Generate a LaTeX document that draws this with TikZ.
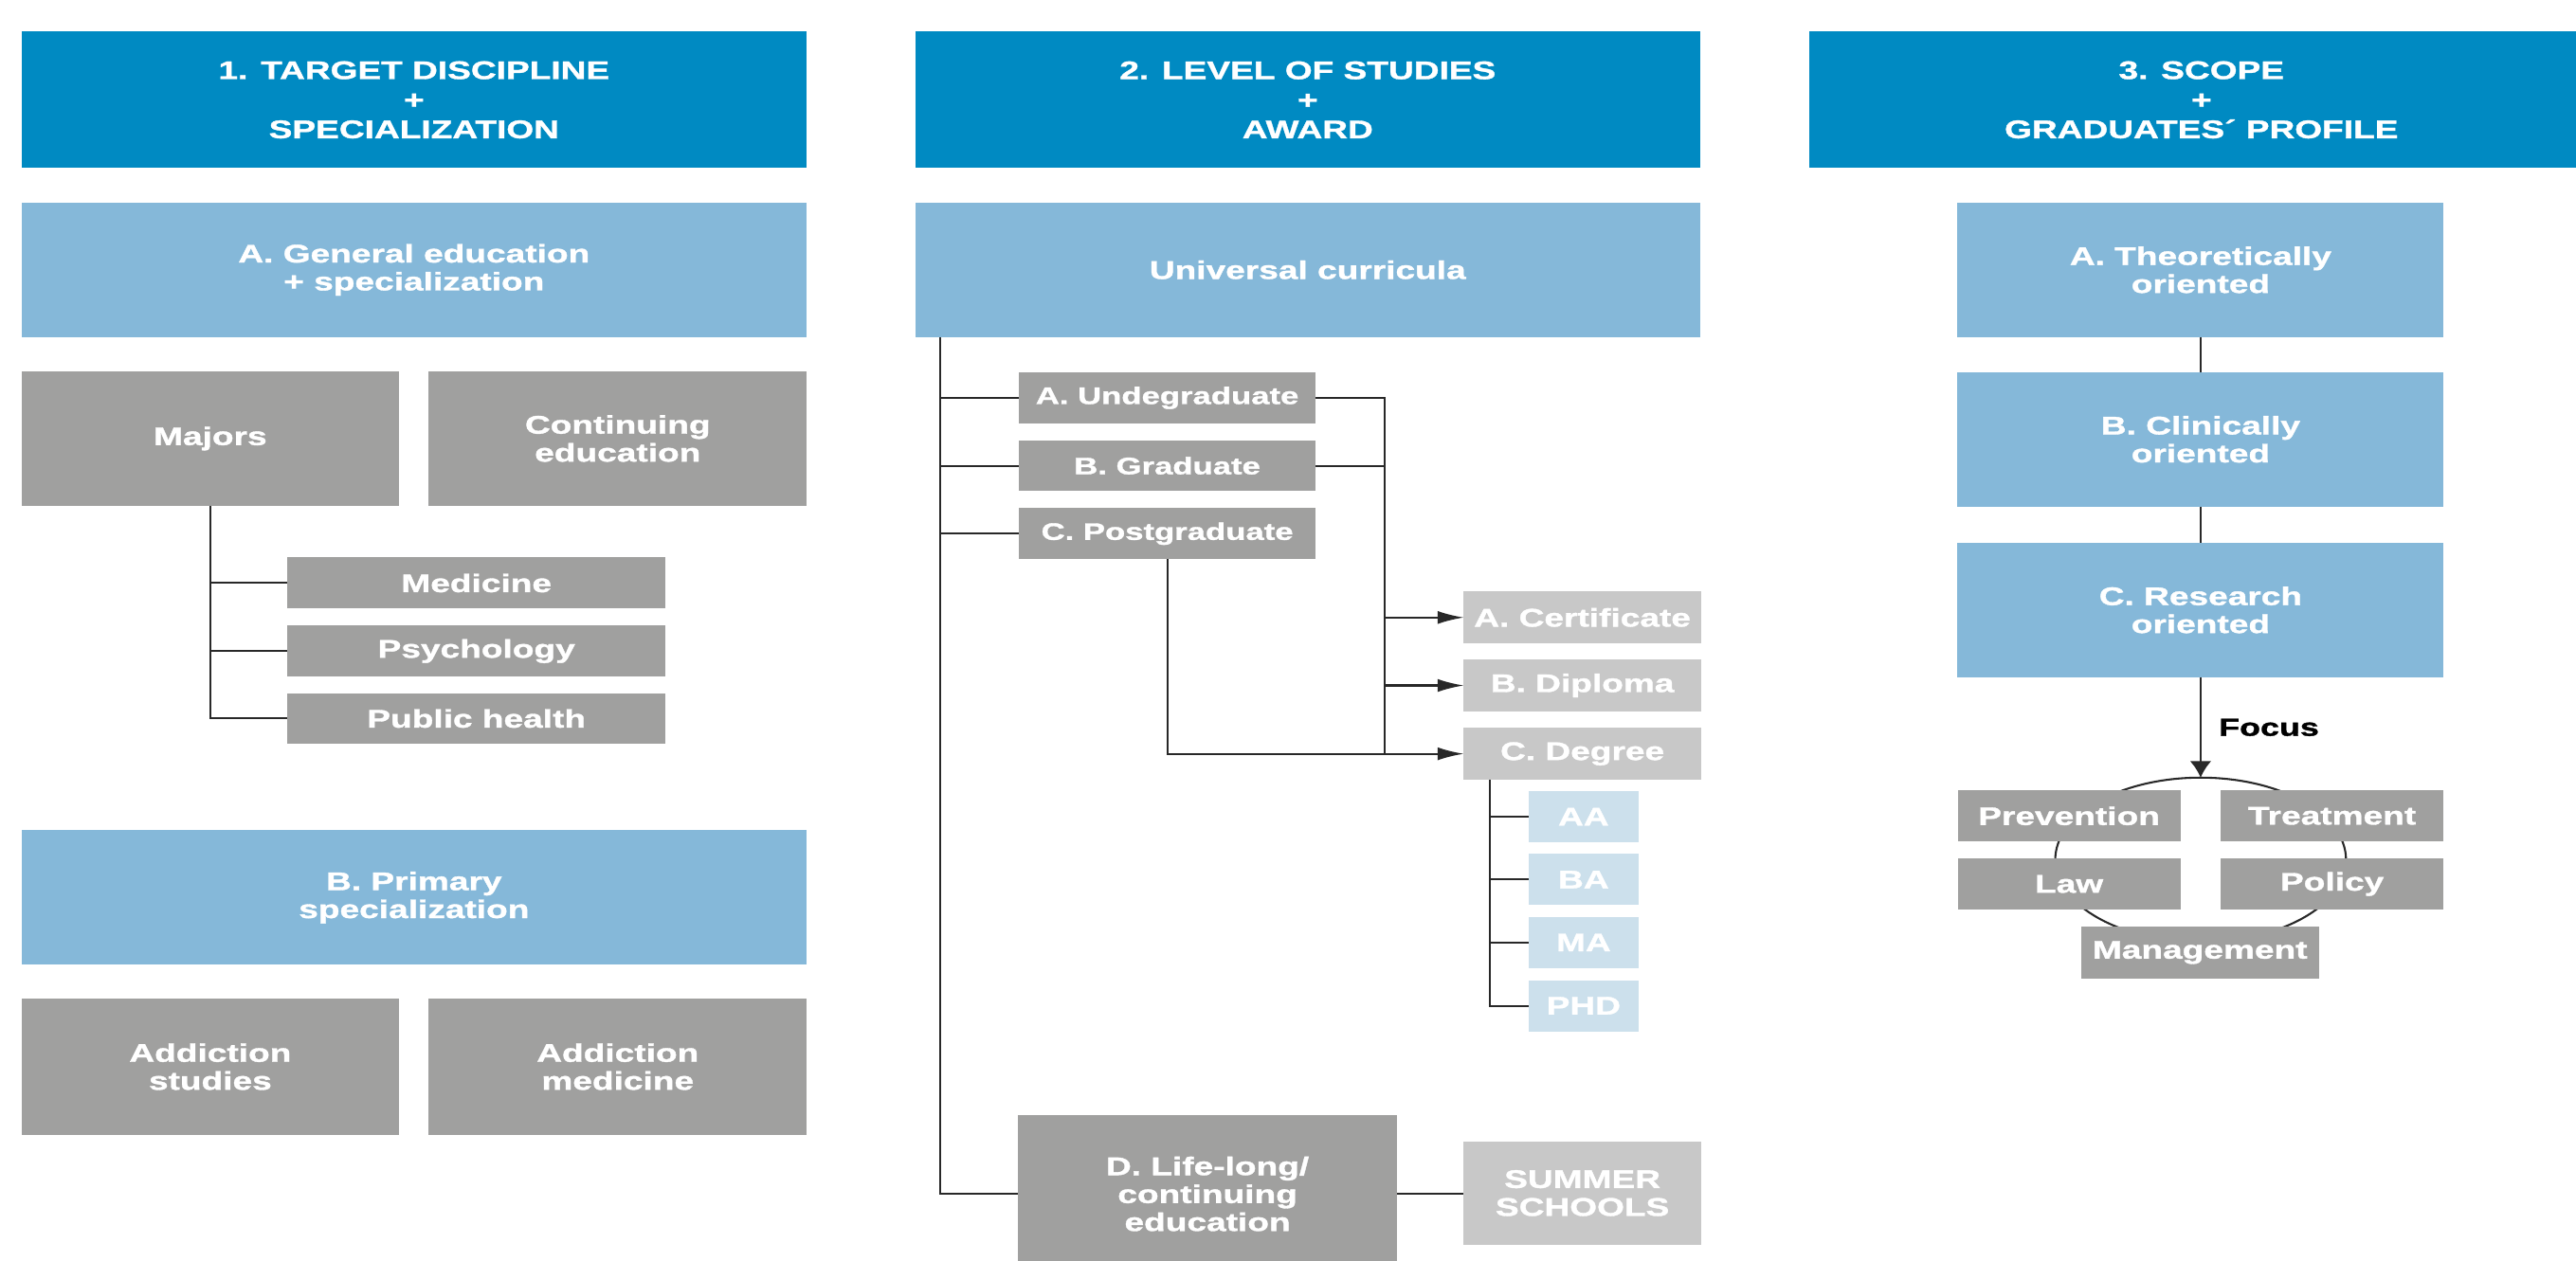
\documentclass[tikz,border=0pt]{standalone}
\usepackage{fontspec}
\newfontfamily\labfont{Liberation Sans}[FakeStretch=1.38, BoldFeatures={FakeBold=1.3}]
\usetikzlibrary{arrows.meta,shapes.geometric}
\definecolor{hdr}{RGB}{0,138,194}
\definecolor{lblue}{RGB}{133,184,217}
\definecolor{gbox}{RGB}{160,160,159}
\definecolor{lgray}{RGB}{200,200,200}
\definecolor{pblue}{RGB}{204,224,236}
\definecolor{ln}{RGB}{40,40,40}
\tikzset{
  base/.style={inner sep=0pt, outer sep=0pt, text=white, align=center,
    font=\labfont\bfseries\fontsize{15.5}{17}\selectfont},
  hdrbox/.style={base, fill=hdr, minimum width=478pt, minimum height=83pt},
  bigblue/.style={base, fill=lblue, minimum height=82pt},
  graybox/.style={base, fill=gbox},
  smallgray/.style={base, fill=gbox, minimum width=181pt, minimum height=31pt,
    font=\labfont\bfseries\fontsize{14.5}{16}\selectfont},
  lgbox/.style={base, fill=lgray, minimum width=144.4pt},
  pbbox/.style={base, fill=pblue, minimum width=67pt, minimum height=31.2pt},
  conn/.style={draw=ln, line width=1.2pt},
  harrow/.style={conn, -{Latex[length=16pt,width=8pt]}},
  varrow/.style={conn, -{Latex[length=10pt,width=13pt]}},
  focuslbl/.style={inner sep=0pt, text=black,
    font=\labfont\bfseries\fontsize{15}{17}\selectfont},
}
\begin{document}
\begin{tikzpicture}[x=1pt,y=-1pt]
\useasboundingbox (0,0) rectangle (1568,767.3);
\clip (0,0) rectangle (1568,767.3);
\fill[white] (0,0) rectangle (1568,767.3);

% ---------- Column 1 ----------
\node[hdrbox] (h1) at (252,60.8) {1. TARGET DISCIPLINE\\[1pt]+\\[1pt]SPECIALIZATION};
\node[bigblue, minimum width=478pt] (a1) at (252,164.3) {A. General education\\+ specialization};
\node[graybox, minimum width=230pt, minimum height=82pt] (maj) at (128,267) {Majors};
\node[graybox, minimum width=230pt, minimum height=82pt] (cont) at (376,267) {Continuing\\education};
\node[graybox, minimum width=230pt, minimum height=31pt] (med) at (290,355) {Medicine};
\node[graybox, minimum width=230pt, minimum height=31pt] (psy) at (290,396.5) {Psychology};
\node[graybox, minimum width=230pt, minimum height=31pt] (pub) at (290,437.5) {Public health};
\draw[conn] (maj.south) |- (pub.west);
\draw[conn] (maj.south |- med.west) -- (med.west);
\draw[conn] (maj.south |- psy.west) -- (psy.west);
\node[bigblue, minimum width=478pt] (bp) at (252,546.5) {B. Primary\\specialization};
\node[graybox, minimum width=230pt, minimum height=83pt] (ads) at (128,649.5) {Addiction\\studies};
\node[graybox, minimum width=230pt, minimum height=83pt] (adm) at (376,649.5) {Addiction\\medicine};

% ---------- Column 2 ----------
\node[hdrbox] (h2) at (796,60.8) {2. LEVEL OF STUDIES\\[1pt]+\\[1pt]AWARD};
\node[bigblue, minimum width=478pt] (uc) at (796,164.3) {Universal curricula};
\node[smallgray] (und) at (710.5,242.3) {A. Undegraduate};
\node[smallgray] (grad) at (710.5,283.6) {B. Graduate};
\node[smallgray] (post) at (710.5,325) {C. Postgraduate};
\node[graybox, minimum width=230.5pt, minimum height=96pt] (dlife) at (735,727) {D. Life-long/\\continuing\\education};
\node[lgbox, minimum height=63pt] (summer) at (963.2,726.5) {SUMMER\\SCHOOLS};
\node[lgbox, minimum height=31.5pt] (cert) at (963.2,376) {A. Certificate};
\node[lgbox, minimum height=31.5pt] (dipl) at (963.2,417.4) {B. Diploma};
\node[lgbox, minimum height=31.5pt] (degr) at (963.2,459) {C. Degree};
\node[pbbox] (aa) at (963.9,497.3) {AA};
\node[pbbox] (ba) at (963.9,535.6) {BA};
\node[pbbox] (ma) at (963.9,573.9) {MA};
\node[pbbox] (phd) at (963.9,612.4) {PHD};

\coordinate (tr) at ([xshift=15.4pt]uc.south west);
\draw[conn] (tr) |- (dlife.west);
\draw[conn] (tr |- und.west) -- (und.west);
\draw[conn] (tr |- grad.west) -- (grad.west);
\draw[conn] (tr |- post.west) -- (post.west);
\coordinate (rv) at ([xshift=41.7pt]und.east);
\draw[conn] (und.east) -- (rv) -- (rv |- degr.west);
\draw[conn] (grad.east) -- (grad.east -| rv);
\draw[harrow] (cert.west -| rv) -- (cert.west);
\draw[harrow] (dipl.west -| rv) -- (dipl.west);
\draw[harrow] (post.south) |- (degr.west);
\draw[conn] (dlife.east) -- (dlife.east -| summer.west);
\coordinate (dv) at ([xshift=16pt]degr.south west);
\draw[conn] (dv) |- (phd.west);
\draw[conn] (dv |- aa.west) -- (aa.west);
\draw[conn] (dv |- ba.west) -- (ba.west);
\draw[conn] (dv |- ma.west) -- (ma.west);

% ---------- Column 3 ----------
\node[hdrbox] (h3) at (1340,60.8) {3. SCOPE\\[1pt]+\\[1pt]GRADUATES´ PROFILE};
\node[bigblue, minimum width=296pt] (a3) at (1339.5,164.3) {A. Theoretically\\oriented};
\node[bigblue, minimum width=296pt] (b3) at (1339.5,267.5) {B. Clinically\\oriented};
\node[bigblue, minimum width=296pt] (c3) at (1339.5,371.4) {C. Research\\oriented};
\draw[conn] (a3) -- (b3);
\draw[conn] (b3) -- (c3);
\node[conn, ellipse, inner sep=0pt, outer sep=0pt, minimum width=177pt, minimum height=100pt] (ring) at (1339.5,523.5) {};
\draw[varrow] (c3.south) -- node[focuslbl, midway, anchor=west, xshift=10.5pt] (focus) {Focus} (ring.north);
\node[graybox, minimum width=135.6pt, minimum height=31pt] (prev) at (1259.4,496.8) {Prevention};
\node[graybox, minimum width=135.6pt, minimum height=31pt] (treat) at (1419.5,496.8) {Treatment};
\node[graybox, minimum width=135.6pt, minimum height=31pt] (law) at (1259.4,538.3) {Law};
\node[graybox, minimum width=135.6pt, minimum height=31pt] (pol) at (1419.5,538.3) {Policy};
\node[graybox, minimum width=144.6pt, minimum height=31.6pt] (mgmt) at (1339.1,580) {Management};
\end{tikzpicture}
\end{document}
